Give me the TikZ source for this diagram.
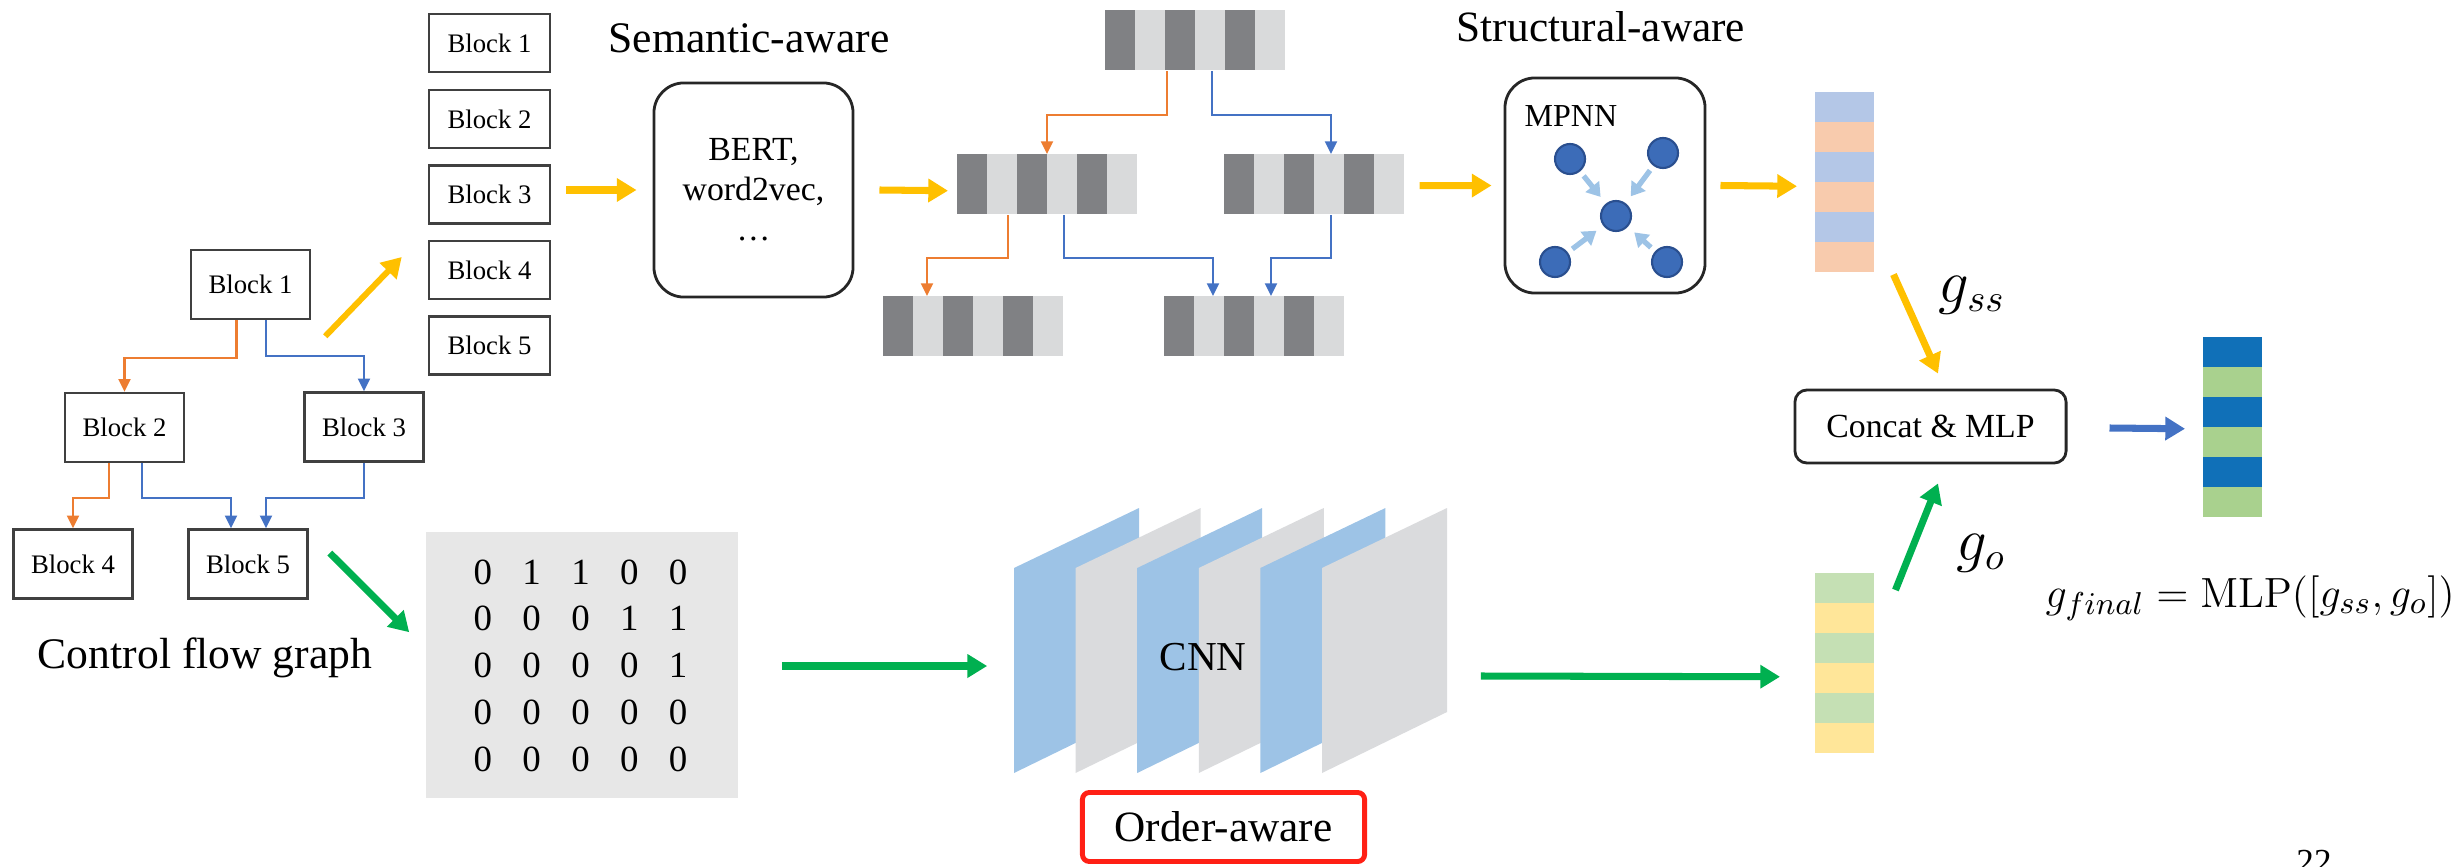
\documentclass[tikz,border=0pt]{standalone}
\usepackage[no-math]{fontspec}
\setmainfont{Liberation Serif}
\usetikzlibrary{arrows.meta,calc,matrix}
\definecolor{yel}{HTML}{FFC000}
\definecolor{grn}{HTML}{00B050}
\definecolor{bluA}{HTML}{4472C4}
\definecolor{orn}{HTML}{ED7D31}
\definecolor{bdark}{HTML}{808184}
\definecolor{blight}{HTML}{D9DADB}
\definecolor{tvA}{HTML}{B4C7E7}
\definecolor{tvB}{HTML}{F8CBAD}
\definecolor{bvA}{HTML}{C5E0B4}
\definecolor{bvB}{HTML}{FFE699}
\definecolor{fvA}{HTML}{1070B8}
\definecolor{fvB}{HTML}{A9D18E}
\definecolor{cnnblue}{HTML}{9DC3E6}
\definecolor{cnngray}{HTML}{DADBDD}
\definecolor{matgray}{HTML}{E7E7E7}
\definecolor{ndfill}{HTML}{3C6CB8}
\definecolor{ndline}{HTML}{2A4F8F}
\definecolor{lblue}{HTML}{9DC3E6}
\definecolor{redb}{HTML}{FF2015}
\newcommand{\hstripbar}[3]{%
  \foreach \k in {0,2,4} {\fill[bdark] (#2+\k*30,#3) rectangle ++(30,60); \fill[blight] (#2+\k*30+30,#3) rectangle ++(30,60);}
  \node[anchor=north west, inner sep=0, minimum width=1.8cm, minimum height=0.6cm] (#1) at (#2,#3) {};}
\newcommand{\vstripbar}[5]{%
  \foreach \k in {0,2,4} {\fill[#4] (#2,#3+\k*30) rectangle ++(59,30); \fill[#5] (#2,#3+\k*30+30) rectangle ++(59,30);}
  \node[anchor=north west, inner sep=0, minimum width=0.59cm, minimum height=1.8cm] (#1) at (#2,#3) {};}
\begin{document}
\begin{tikzpicture}[x=0.01cm,y=-0.01cm,
  blk/.style={draw=black!75, line width=0.7pt, inner sep=0, font=\fontsize{7.6}{9}\selectfont},
  colblk/.style={blk, minimum width=1.21cm, minimum height=0.58cm},
  cfgblk/.style={blk, minimum width=1.19cm, minimum height=0.69cm},
  tarr/.style={line width=0.6pt, -{Triangle[length=3.6pt,width=3.4pt]}},
  oarr/.style={tarr, color=orn},
  blarr/.style={tarr, color=bluA},
  fatarr/.style={line width=2pt, -{Triangle[length=5.6pt,width=6.4pt]}},
  yarr/.style={fatarr, color=yel},
  garr/.style={fatarr, color=grn},
  barr/.style={fatarr, color=bluA},
  nd/.style={circle, fill=ndfill, draw=ndline, line width=0.6pt, minimum size=0.3cm, inner sep=0},
  narr/.style={line width=1.5pt, color=lblue, -{Triangle[length=3.8pt,width=4.8pt]}, shorten <=1.6pt, shorten >=2.4pt},
  rbox/.style={draw=black!85, line width=0.8pt, rounded corners=0.3cm}
]
\useasboundingbox (0,0) rectangle (2461,867);
\clip (0,0) rectangle (2461,867);

% CFG
\node[cfgblk] (c1) at (250.5,284.5) {Block 1};
\node[cfgblk] (c2) at (124.5,427.5) {Block 2};
\node[cfgblk] (c3) at (364,427) {Block 3};
\node[cfgblk] (c4) at (73,564) {Block 4};
\node[cfgblk] (c5) at (248,564) {Block 5};
\draw[oarr] ($(c1.south)+(-14,0)$) -- ++(0,38) -| (c2.north);
\draw[blarr] ($(c1.south)+(15.5,0)$) -- ++(0,36) -| (c3.north);
\draw[oarr] ($(c2.south)+(-15.5,0)$) -- ++(0,35) -| (c4.north);
\draw[blarr] ($(c2.south)+(17.5,0)$) -- ++(0,35) -| ($(c5.north)+(-17,0)$);
\draw[blarr] (c3.south) -- ++(0,35) -| ($(c5.north)+(18,0)$);
\node[anchor=base, font=\fontsize{12.4}{14}\selectfont] (cfg) at (205,668) {Control flow graph};

% block column
\node[colblk] (r1) at (489.5,43) {Block 1};
\node[colblk] (r2) at (489.5,119) {Block 2};
\node[colblk] (r3) at (489.5,194.5) {Block 3};
\node[colblk] (r4) at (489.5,270) {Block 4};
\node[colblk] (r5) at (489.5,345.5) {Block 5};
\draw[yarr, line width=1.7pt] ($(c1.south east)+(14,16)$) -- ($(r4.west)+(-26,-13)$);

% semantic
\node[anchor=base, font=\fontsize{12.4}{14}\selectfont] (sem) at (749,53) {Semantic-aware};
\node[rbox, minimum width=1.99cm, minimum height=2.14cm, align=center, font=\fontsize{9.6}{11.4}\selectfont] (bert) at (753.5,190) {BERT,\\word2vec,\\\ldots};
\draw[yarr] ($(r3.east)+(15,-4.5)$) -- ($(bert.west)+(-16,0)$);

% bars
\hstripbar{tb}{1105}{10}
\hstripbar{ml}{957}{154}
\hstripbar{mr}{1224}{154}
\hstripbar{bl}{883}{296}
\hstripbar{br}{1164}{296}
\draw[yarr] ($(bert.east)+(25,0)$) -- ($(ml.west)+(-9,6)$);
\draw[oarr] ($(tb.south west)+(62,0)$) -- ++(0,44) -| ($(ml.north west)+(90,0)$);
\draw[blarr] ($(tb.south west)+(107,0)$) -- ++(0,44) -| ($(mr.north west)+(107,0)$);
\draw[oarr] ($(ml.south west)+(51,0)$) -- ++(0,43) -| ($(bl.north west)+(44,0)$);
\draw[blarr] ($(ml.south west)+(107,0)$) -- ++(0,43) -| ($(br.north west)+(49,0)$);
\draw[blarr] ($(mr.south west)+(107,0)$) -- ++(0,43) -| ($(br.north west)+(107,0)$);

% structural
\node[anchor=base, font=\fontsize{12.3}{14}\selectfont] (str) at (1601,42) {Structural-aware};
\node[rbox, minimum width=2cm, minimum height=2.15cm] (mpnn) at (1605,185.5) {};
\node[anchor=base west, inner sep=0, font=\fontsize{9.1}{11}\selectfont] (mptxt) at (1524,127) {MPNN};
\node[nd] (n1) at (1570,159) {};
\node[nd] (n2) at (1663,153) {};
\node[nd] (n0) at (1616,216) {};
\node[nd] (n3) at (1555,262) {};
\node[nd] (n4) at (1667,262) {};
\draw[narr] (n1) -- (n0);
\draw[narr] (n2) -- (n0);
\draw[narr] (n3) -- (n0);
\draw[narr] (n4) -- (n0);
\draw[yarr] ($(mr.east)+(14,1)$) -- ($(mpnn.west)+(-12,0)$);

% vectors
\vstripbar{tv}{1815}{92}{tvA}{tvB}
\vstripbar{bv}{1815}{573}{bvA}{bvB}
\vstripbar{fv}{2203}{337}{fvA}{fvB}
\draw[yarr] ($(mpnn.east)+(14,0)$) -- ($(tv.west)+(-18,3.5)$);

% concat
\node[draw=black!85, line width=0.8pt, rounded corners=0.12cm, minimum width=2.71cm, minimum height=0.73cm, font=\fontsize{9.6}{11}\selectfont] (concat) at (1930.5,426.5) {Concat \& MLP};
\draw[yarr] ($(tv.south east)+(18,1)$) -- ($(concat.north)+(7.5,-15)$);
\draw[garr] ($(bv.north east)+(20,17)$) -- ($(concat.south)+(7.5,19)$);
\draw[barr] ($(concat.east)+(42,1.5)$) -- ($(fv.west)+(-18,1)$);
\node[font=\fontsize{16}{18}\selectfont] (gss) at (1972,295) {$g_{ss}$};
\node[font=\fontsize{16}{18}\selectfont] (go) at (1981,553) {$g_o$};
\node[anchor=base west, inner sep=0, font=\fontsize{12.2}{14}\selectfont] (fml) at (2045,607) {$g_{final}=\mathrm{MLP}([g_{ss},g_o])$};

% adjacency matrix
\node[fill=matgray, minimum width=3.12cm, minimum height=2.66cm, inner sep=0] (mat) at (582,665) {};
\matrix (m) at (580.5,665.5) [matrix of nodes, ampersand replacement=\&, column sep=0pt, row sep=0pt,
  nodes={minimum width=0.4875cm, minimum height=0.4675cm, inner sep=0, anchor=center, font=\fontsize{10.5}{12}\selectfont}] {
  0 \& 1 \& 1 \& 0 \& 0\\
  0 \& 0 \& 0 \& 1 \& 1\\
  0 \& 0 \& 0 \& 0 \& 1\\
  0 \& 0 \& 0 \& 0 \& 0\\
  0 \& 0 \& 0 \& 0 \& 0\\
};
\draw[garr] ($(c5.east)+(21,-11)$) -- ($(mat.north west)+(-16,101)$);

% CNN
\foreach \k/\c in {0/cnnblue,1/cnngray,2/cnnblue,3/cnngray,4/cnnblue,5/cnngray}
  \fill[\c] (1014+61.6*\k,568) -- ++(125,-60) -- ++(0,204) -- ++(-125,61) -- cycle;
\node[inner sep=0, minimum width=4.33cm, minimum height=2.65cm] (cnn) at (1230.5,640.5) {};
\node[font=\fontsize{11.7}{13}\selectfont] (cnntxt) at (1203,657) {CNN};
\draw[garr] ($(mat.east)+(43,1)$) -- ($(cnn.west)+(-26,25.5)$);
\draw[garr] ($(cnn.east)+(33,35.5)$) -- ($(bv.west)+(-35,13)$);
\node[draw=redb, line width=1.4pt, rounded corners=2pt, minimum width=2.82cm, minimum height=0.69cm, font=\fontsize{12.3}{14}\selectfont] (oa) at (1223.5,827) {Order-aware};

\node[anchor=north, inner sep=0, font=\fontsize{10}{12}\selectfont] (pg) at (2314,850) {22};
\end{tikzpicture}
\end{document}
